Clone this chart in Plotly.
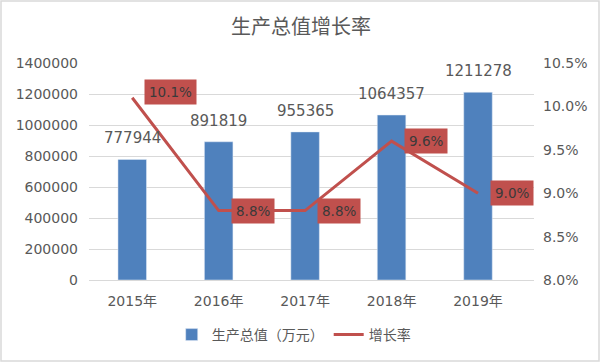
import plotly.graph_objects as go

years = ["2015年", "2016年", "2017年", "2018年", "2019年"]
output_values = [777944, 891819, 955365, 1064357, 1211278]
growth_rates = [10.1, 8.8, 8.8, 9.6, 9.0]
rate_labels = ["10.1%", "8.8%", "8.8%", "9.6%", "9.0%"]

FONT = "DejaVu Sans, Noto Sans CJK SC"
CJK = "Noto Sans CJK SC"
GRAY = "#595959"

fig = go.Figure()
fig.add_trace(go.Bar(
    x=years, y=output_values, name="生产总值（万元）",
    marker=dict(color="#4F81BD"),
))
fig.add_trace(go.Scatter(
    x=years, y=growth_rates, name="增长率", yaxis="y2",
    mode="lines", line=dict(color="#C0504D", width=3),
))

for x, v in zip(years, output_values):
    fig.add_annotation(
        x=x, y=v, xref="x", yref="y", text=str(v), showarrow=False,
        xanchor="center", yanchor="bottom", yshift=10,
        font=dict(size=15, color=GRAY, family=FONT),
    )

yshifts = [6, 0, 0, 0, 0]
for x, y, lab, ys in zip(years, growth_rates, rate_labels, yshifts):
    fig.add_annotation(
        x=x, y=y, xref="x", yref="y2", text=lab, showarrow=False,
        xanchor="left", yanchor="middle", xshift=12, yshift=ys,
        bgcolor="#C0504D", font=dict(size=13.5, color="#3a3a3a", family=FONT),
        borderpad=4,
    )

W, H = 602, 363
l, r, t, b = 89, 68, 63, 83
pw, ph = W - l - r, H - t - b
fig.add_shape(
    type="rect", xref="paper", yref="paper",
    x0=(1 - l) / pw, x1=1 + (r - 3) / pw,
    y0=-(b - 2) / ph, y1=1 + (t - 1) / ph,
    line=dict(color="#D9D9D9", width=1.5), layer="below",
)

fig.update_layout(
    width=W, height=H,
    margin=dict(l=l, r=r, t=t, b=b),
    paper_bgcolor="white", plot_bgcolor="white",
    title=dict(text="生产总值增长率", x=0.5, xanchor="center", y=1 - 27 / H,
               yanchor="middle", font=dict(size=20, color=GRAY, family=CJK)),
    font=dict(family=FONT, color=GRAY, size=13),
    bargap=0.67,
    showlegend=True,
    legend=dict(orientation="h", x=0.46, xanchor="center", y=-(335 - 280) / ph,
                yanchor="middle", font=dict(size=14, color=GRAY, family=CJK)),
    xaxis=dict(showgrid=False, showline=True, linecolor="#D9D9D9",
               tickfont=dict(size=14, color=GRAY), ticks="", ticklabelstandoff=8),
    yaxis=dict(range=[0, 1400000], dtick=200000, showgrid=True, gridcolor="#D9D9D9",
               zeroline=False, tickfont=dict(size=14, color=GRAY),
               tickformat="d", ticklabelstandoff=10),
    yaxis2=dict(range=[8.0, 10.5], dtick=0.5, overlaying="y", side="right",
                showgrid=False, zeroline=False, tickformat=".1f", ticksuffix="%",
                tickfont=dict(size=14, color=GRAY), ticklabelstandoff=8),
)

fig.write_html("out.html", post_script="document.body.style.margin='0';",
               config={"displayModeBar": False})
